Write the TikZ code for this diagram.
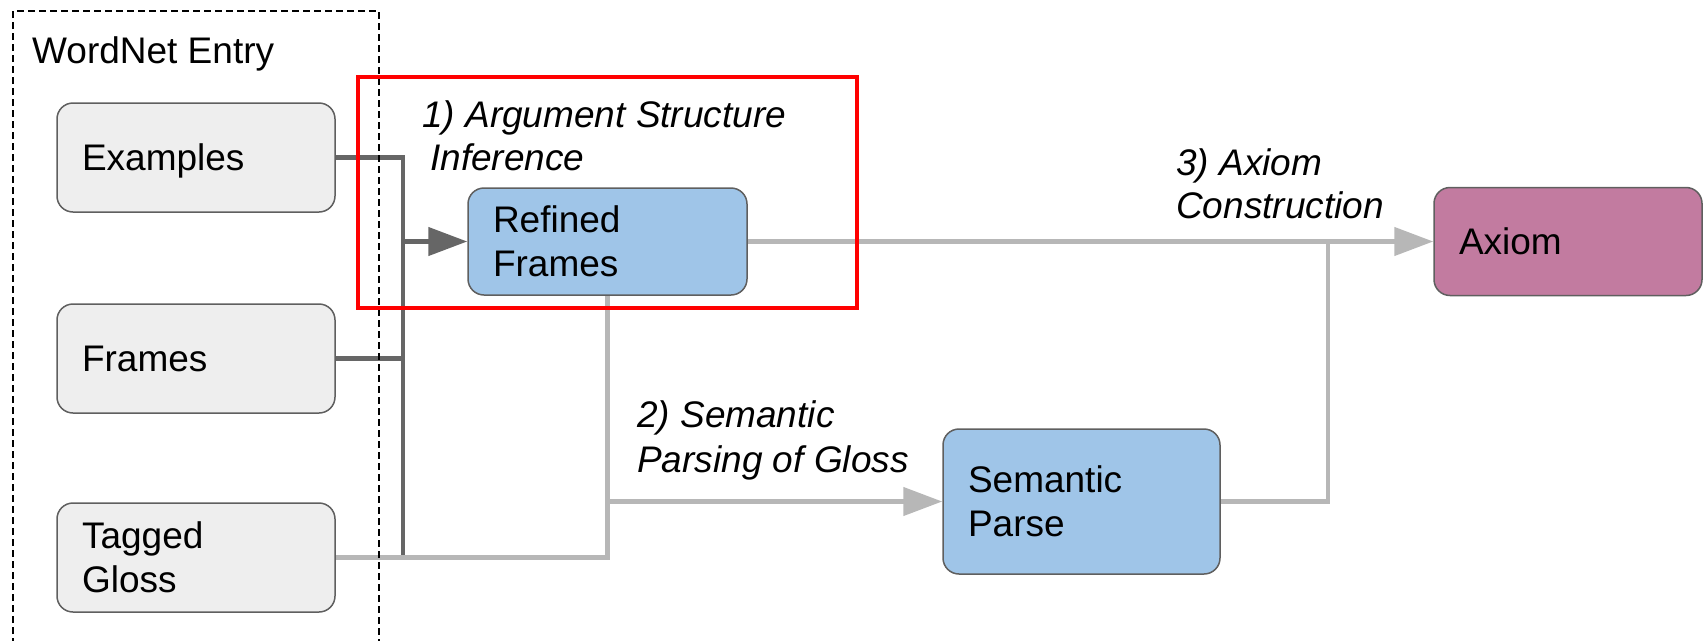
\documentclass[tikz,border=0pt]{standalone}
\usepackage{fontspec}
\setmainfont{Liberation Sans}
\usetikzlibrary{arrows.meta}
\definecolor{boxgray}{HTML}{EEEEEE}
\definecolor{boxblue}{HTML}{9FC5E8}
\definecolor{boxmag}{HTML}{C27BA0}
\definecolor{bordergray}{HTML}{5F5F5F}
\definecolor{darkline}{HTML}{666666}
\definecolor{lightline}{HTML}{B7B7B7}
\pgfdeclarelayer{bg}
\pgfsetlayers{bg,main}
\tikzset{
  bigfont/.style={font=\fontsize{37}{43.5}\selectfont},
  box/.style={draw=bordergray, line width=1.5pt, rounded corners=16pt, bigfont,
    align=left, inner xsep=0pt, inner ysep=0pt, anchor=center},
  oneline/.style={text depth=0pt},
  graybox/.style={box, fill=boxgray},
  bluebox/.style={box, fill=boxblue},
  magbox/.style={box, fill=boxmag},
  lbl/.style={font=\fontsize{37}{43.5}\selectfont\itshape, anchor=base west, inner sep=0pt},
  darkconn/.style={draw=darkline, line width=4.5pt},
  lightconn/.style={draw=lightline, line width=4.5pt},
  tip/.style={-{Triangle[length=39pt,width=28pt]}},
}
\begin{document}
\begin{tikzpicture}[x=1pt,y=-1pt]
\useasboundingbox (0,0) rectangle (1704,640);

% boxes
\node[graybox, oneline, minimum width=278pt, minimum height=109pt, text width=228pt] (ex) at (196,157.5) {Examples};
\node[graybox, oneline, minimum width=278pt, minimum height=109pt, text width=228pt] (fr) at (196,358.5) {Frames};
\node[graybox, minimum width=278pt, minimum height=109pt, text width=228pt] (tg) at (196,557.5) {Tagged\\Gloss};
\node[bluebox, minimum width=279pt, minimum height=107pt, text width=229pt] (rf) at (607.5,241.5) {Refined\\Frames};
\node[bluebox, minimum width=277pt, minimum height=145pt, text width=227pt] (sp) at (1081.5,501.5) {Semantic\\Parse};
\node[magbox, oneline, minimum width=268pt, minimum height=108pt, text width=218pt] (ax) at (1568,241.5) {Axiom};

% junction coordinates
\coordinate (busBot) at (403,557.5);
\coordinate (jn) at (1328,241.5);

\begin{pgfonlayer}{bg}
\draw[darkconn] (ex.east) -| (busBot);
\draw[darkconn] (fr.east) -- (fr.east -| busBot);
\draw[darkconn, tip] (busBot |- rf.west) -- (rf.west);
\draw[lightconn] (tg.east) -| (rf.south);
\draw[lightconn, tip] (rf.south |- sp.west) -- (sp.west);
\draw[lightconn, tip] (rf.east) -- (ax.west);
\draw[lightconn] (sp.east) -| (jn);
\end{pgfonlayer}

% labels
\node[bigfont, anchor=base west, inner sep=0pt] (wn) at (32,63) {WordNet Entry};
\node[lbl] (l1a) at (422,127) {1) Argument Structure};
\node[lbl] (l1b) at (430,170) {Inference};
\node[lbl] (l2a) at (637,427) {2) Semantic};
\node[lbl] (l2b) at (637,472) {Parsing of Gloss};
\node[lbl] (l3a) at (1176,175) {3) Axiom};
\node[lbl] (l3b) at (1176,218) {Construction};

% frames
\draw[black, line width=1.5pt, dash pattern=on 7pt off 4pt] (13,700) -- (13,11) -- (379,11) -- (379,700);
\draw[red, line width=4.5pt] (358,77) rectangle (857,308);
\end{tikzpicture}
\end{document}
